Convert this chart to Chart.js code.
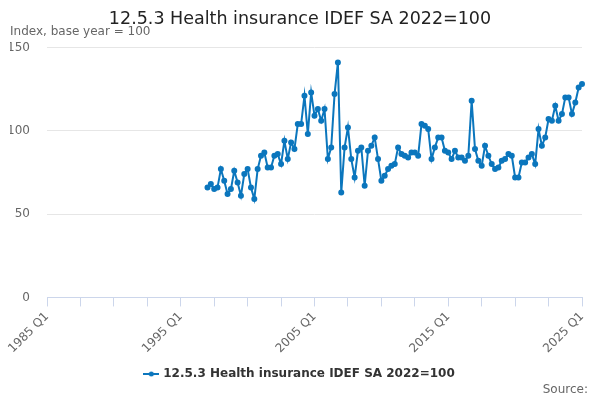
<!DOCTYPE html>
<html>
<head>
<meta charset="utf-8">
<script src="https://cdn.jsdelivr.net/npm/chart.js@4"></script>
<style>
  body { margin: 0; background: #fff; }
  #wrap { width: 600px; height: 400px; }
</style>
</head>
<body>
<div id="wrap"><canvas id="healthChart" width="600" height="400"></canvas></div>
<script>
// quarters from 1985 Q1 to 2025 Q1, series starts in 1997 Q1
var firstYear = 1985;
var lastYear = 2025;
var seriesStart = '1997 Q1';
var seriesName = '12.5.3 Health insurance IDEF SA 2022=100';
var seriesValues = [
    66, 68, 65, 66, 77, 70, 62, 65, 76, 69,
    61, 74, 77, 66, 59, 77, 85, 87, 78, 78,
    85, 86, 80, 94, 83, 93, 89, 104, 104, 121,
    98, 123, 109, 113, 106, 113, 83, 90, 122, 141,
    63, 90, 102, 83, 72, 88, 90, 67, 88, 91,
    96, 83, 70, 73, 77, 79, 80, 90, 86, 85,
    84, 87, 87, 85, 104, 103, 101, 83, 90, 96,
    96, 88, 87, 83, 88, 84, 84, 82, 85, 118,
    89, 82, 79, 91, 85, 80, 77, 78, 82, 83,
    86, 85, 72, 72, 81, 81, 84, 86, 80, 101,
    91, 96, 107, 106, 115, 106, 110, 120, 120, 110,
    117, 126, 128
];
var yTicks = [0, 50, 100, 150];

var quarters = [];
for (var y = firstYear; y <= lastYear; y++) {
    for (var q = 1; q <= 4; q++) {
        quarters.push(y + ' Q' + q);
        if (y === lastYear) break;
    }
}
var offset = quarters.indexOf(seriesStart);
var values = quarters.map(function(lbl, i) {
    var k = i - offset;
    return (k >= 0 && k < seriesValues.length) ? seriesValues[k] : null;
});

var blue = '#0b76bd';

// small line + dot used as legend symbol
var legendIcon = document.createElement('canvas');
legendIcon.width = 16;
legendIcon.height = 8;
var ic = legendIcon.getContext('2d');
ic.strokeStyle = blue;
ic.lineWidth = 2;
ic.beginPath();
ic.moveTo(0, 4);
ic.lineTo(16, 4);
ic.stroke();
ic.fillStyle = blue;
ic.beginPath();
ic.arc(8, 4, 2.5, 0, Math.PI * 2);
ic.fill();

var sourceNote = {
    id: 'sourceNote',
    afterDraw: function(chart) {
        var c = chart.ctx;
        c.save();
        c.font = '12px "DejaVu Sans"';
        c.fillStyle = '#666';
        c.textAlign = 'right';
        c.textBaseline = 'middle';
        c.fillText('Source:', 588, 390);
        c.restore();
    }
};

var ctx = document.getElementById('healthChart').getContext('2d');
var healthChart = new Chart(ctx, {
    type: 'line',
    data: {
        labels: quarters,
        datasets: [{
            label: seriesName,
            data: values,
            borderColor: blue,
            backgroundColor: blue,
            borderWidth: 2,
            pointRadius: 2,
            pointHoverRadius: 3,
            tension: 0,
            spanGaps: false
        }]
    },
    options: {
        responsive: false,
        animation: false,
        layout: {
            padding: { left: 10, right: 10, top: 6, bottom: 10 }
        },
        plugins: {
            title: {
                display: true,
                text: seriesName,
                color: '#222',
                font: { family: 'DejaVu Sans', size: 17.5, weight: 'normal', lineHeight: 1.0 },
                padding: { top: 5, bottom: -4 }
            },
            subtitle: {
                display: true,
                text: 'Index, base year = 100',
                align: 'start',
                color: '#666',
                font: { family: 'DejaVu Sans', size: 12 },
                padding: { top: 0, bottom: 8.5 }
            },
            legend: {
                position: 'bottom',
                labels: {
                    usePointStyle: true,
                    pointStyle: legendIcon,
                    color: '#333',
                    font: { family: 'DejaVu Sans', size: 12, weight: 'bold' },
                    padding: 9
                }
            },
            tooltip: { enabled: false }
        },
        scales: {
            x: {
                grid: {
                    drawOnChartArea: false,
                    drawTicks: true,
                    tickLength: 9,
                    color: '#ccd6eb'
                },
                border: { display: true, color: '#ccd6eb' },
                ticks: {
                    autoSkip: false,
                    maxRotation: 45,
                    minRotation: 45,
                    color: '#666',
                    font: { family: 'DejaVu Sans', size: 12 },
                    callback: function(val, i) {
                        if (i % 40 === 0) return quarters[i];
                        if (i % 10 === 0) return '';
                        return null;
                    }
                }
            },
            y: {
                min: 0,
                max: 150,
                afterFit: function(axis) { axis.width = 37; },
                afterBuildTicks: function(axis) {
                    axis.ticks = yTicks.map(function(v) { return { value: v }; });
                },
                grid: { color: '#e6e6e6', drawTicks: false },
                border: { display: false },
                ticks: {
                    padding: 17,
                    color: '#666',
                    font: { family: 'DejaVu Sans', size: 12 }
                }
            },
            // empty right-hand gutter so the plot ends where the reference does
            gutter: {
                position: 'right',
                afterFit: function(axis) { axis.width = 8; },
                grid: { display: false },
                border: { display: false },
                ticks: { display: false }
            }
        }
    },
    plugins: [sourceNote]
});
</script>
</body>
</html>
